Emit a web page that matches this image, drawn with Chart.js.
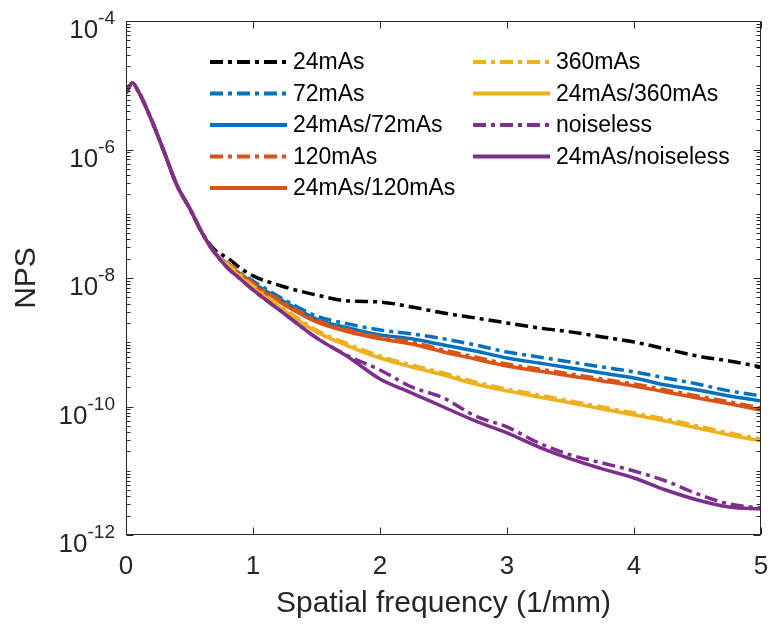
<html>
<head>
<script src="https://cdn.jsdelivr.net/npm/chart.js@4.4.0/dist/chart.umd.min.js"></script>
<style>
  body { margin: 0; background: #fff; }
  canvas { display: block; }
</style>
</head>
<body>
<canvas id="npsChart" width="771" height="624"></canvas>

<script>
  // spatial frequency samples (1/mm)
  var freq = [0, 0.05, 0.1, 0.2, 0.3, 0.4, 0.5, 0.6, 0.7, 0.8, 0.9, 1.0, 1.25, 1.5, 1.75,
              2.0, 2.25, 2.5, 2.75, 3.0, 3.25, 3.5, 3.75, 4.0, 4.25, 4.5, 4.75, 5.0];

  // low frequency part is the same for every curve (0 .. 0.6)
  var sharedLow = [7.58e-6, 1.08e-5, 7.85e-6, 2.9e-6, 9.15e-7, 2.8e-7, 1.23e-7, 5.0e-8];

  // from 0.7 onwards
  var nps24 = [2.73e-8, 2.05e-8, 1.43e-8, 1.08e-8, 7.24e-9, 5.44e-9, 4.39e-9, 4.23e-9, 3.54e-9, 2.85e-9,
               2.39e-9, 2.00e-9, 1.67e-9, 1.45e-9, 1.21e-9, 1.01e-9, 7.85e-10, 6.11e-10, 5.11e-10, 4.12e-10];
  var nps72 = [2.45e-8, 1.71e-8, 1.20e-8, 8.98e-9, 4.55e-9, 2.56e-9, 1.93e-9, 1.55e-9, 1.35e-9, 1.13e-9,
               9.06e-10, 7.05e-10, 5.90e-10, 4.93e-10, 4.12e-10, 3.45e-10, 2.78e-10, 2.24e-10, 1.75e-10, 1.46e-10];
  var nps24to72 = [2.45e-8, 1.65e-8, 1.16e-8, 8.36e-9, 4.23e-9, 2.30e-9, 1.67e-9, 1.30e-9, 1.13e-9, 9.06e-10,
                   7.31e-10, 5.69e-10, 4.76e-10, 3.98e-10, 3.32e-10, 2.78e-10, 2.16e-10, 1.81e-10, 1.46e-10, 1.22e-10];
  var nps120 = [2.45e-8, 1.71e-8, 1.20e-8, 8.36e-9, 4.08e-9, 2.22e-9, 1.55e-9, 1.21e-9, 1.01e-9, 7.58e-10,
                5.90e-10, 4.59e-10, 3.84e-10, 3.21e-10, 2.68e-10, 2.24e-10, 1.81e-10, 1.46e-10, 1.18e-10, 9.48e-11];
  var nps24to120 = [2.45e-8, 1.60e-8, 1.12e-8, 7.78e-9, 3.80e-9, 2.07e-9, 1.45e-9, 1.13e-9, 9.39e-10, 7.05e-10,
                    5.49e-10, 4.27e-10, 3.57e-10, 2.99e-10, 2.50e-10, 2.09e-10, 1.68e-10, 1.36e-10, 1.10e-10, 8.82e-11];
  var nps360 = [2.45e-8, 1.65e-8, 1.12e-8, 7.51e-9, 3.29e-9, 1.55e-9, 9.39e-10, 6.11e-10, 4.43e-10, 3.32e-10,
                2.41e-10, 1.87e-10, 1.51e-10, 1.22e-10, 9.82e-11, 7.92e-11, 6.39e-11, 4.97e-11, 3.87e-11, 3.12e-11];
  var nps24to360 = [2.45e-8, 1.54e-8, 1.04e-8, 6.99e-9, 3.07e-9, 1.45e-9, 8.74e-10, 5.69e-10, 4.12e-10, 3.09e-10,
                    2.24e-10, 1.75e-10, 1.41e-10, 1.14e-10, 9.15e-11, 7.38e-11, 5.95e-11, 4.63e-11, 3.60e-11, 2.91e-11];
  var npsNoiseless = [2.45e-8, 1.43e-8, 9.65e-9, 6.51e-9, 2.75e-9, 1.17e-9, 6.11e-10, 3.70e-10, 2.01e-10, 1.36e-10,
                      7.12e-11, 4.80e-11, 2.71e-11, 1.76e-11, 1.32e-11, 9.91e-12, 6.93e-12, 4.35e-12, 3.04e-12, 2.63e-12];
  var nps24toNoiseless = [2.45e-8, 1.43e-8, 9.65e-9, 6.51e-9, 2.75e-9, 1.17e-9, 5.90e-10, 2.68e-10, 1.62e-10, 9.82e-11,
                          5.95e-11, 3.87e-11, 2.34e-11, 1.53e-11, 1.07e-11, 7.71e-12, 5.02e-12, 3.51e-12, 2.73e-12, 2.54e-12];

  var seriesLabels = ["24mAs", "72mAs", "24mAs/72mAs", "120mAs", "24mAs/120mAs",
                      "360mAs", "24mAs/360mAs", "noiseless", "24mAs/noiseless"];
  var seriesValues = [nps24, nps72, nps24to72, nps120, nps24to120, nps360, nps24to360, npsNoiseless, nps24toNoiseless];
  var seriesColors = ["#000000", "#0072BD", "#0072BD", "#D95319", "#D95319", "#EDB120", "#EDB120", "#7E2F8E", "#7E2F8E"];
  var seriesDashed = [true, true, false, true, false, true, false, true, false];

  var xTicks = [0, 1, 2, 3, 4, 5];
  var yExponents = [-4, -6, -8, -10, -12];

  var fontFamily = "'Liberation Sans', Arial, sans-serif";
  var axisColor = "#262626";
  var dashDot = [13, 5, 4, 5];

  var datasets = seriesValues.map(function (vals, i) {
    var full = sharedLow.concat(vals);
    return {
      label: seriesLabels[i],
      data: full.map(function (v, k) { return { x: freq[k], y: v }; }),
      borderColor: seriesColors[i],
      borderWidth: 3.5,
      borderDash: seriesDashed[i] ? dashDot : [],
      pointRadius: 0,
      fill: false,
      cubicInterpolationMode: "monotone",
      // last series on top, like the plotting order
      order: seriesValues.length - i
    };
  });

  // box round the axes, inward tick marks and 10^n labels
  var axisFrame = {
    id: "axisFrame",
    afterDraw: function (chart) {
      var ctx = chart.ctx;
      var a = chart.chartArea;
      var x = chart.scales.x, y = chart.scales.y;
      var L = Math.round(a.left) + 0.5, R = Math.round(a.right) - 0.5;
      var T = Math.round(a.top) + 0.5, B = Math.round(a.bottom) - 0.5;
      ctx.save();
      ctx.strokeStyle = axisColor;
      ctx.lineWidth = 1;
      ctx.strokeRect(L, T, R - L, B - T);

      ctx.beginPath();
      for (var e = -12; e <= -4; e++) {
        for (var m = 1; m <= 9; m++) {
          if (e === -4 && m > 1) break;
          var py = Math.round(y.getPixelForValue(m * Math.pow(10, e))) + 0.5;
          var len = (m === 1 && e % 2 === 0) ? 7 : 4;
          ctx.moveTo(L, py); ctx.lineTo(L + len, py);
          ctx.moveTo(R, py); ctx.lineTo(R - len, py);
        }
      }
      xTicks.forEach(function (v) {
        var px = Math.round(x.getPixelForValue(v)) + 0.5;
        ctx.moveTo(px, B); ctx.lineTo(px, B - 7);
        ctx.moveTo(px, T); ctx.lineTo(px, T + 7);
      });
      ctx.stroke();

      ctx.fillStyle = axisColor;
      ctx.textAlign = "right";
      ctx.textBaseline = "alphabetic";
      yExponents.forEach(function (e) {
        var py = y.getPixelForValue(Math.pow(10, e));
        var expText = String(e);
        ctx.font = "19px " + fontFamily;
        var w = ctx.measureText(expText).width;
        ctx.fillText(expText, 115, py + 3);
        ctx.font = "26px " + fontFamily;
        ctx.fillText("10", 115 - w, py + 17);
      });
      ctx.restore();
    }
  };

  // two column legend without a box
  var npsLegend = {
    id: "npsLegend",
    afterDraw: function (chart) {
      var ctx = chart.ctx;
      var cols = [{ x0: 210, x1: 287 }, { x0: 473, x1: 550 }];
      ctx.save();
      ctx.font = "23px " + fontFamily;
      ctx.textBaseline = "middle";
      ctx.textAlign = "left";
      chart.data.datasets.forEach(function (ds, i) {
        var col = i < 5 ? cols[0] : cols[1];
        var row = i < 5 ? i : i - 5;
        var yy = 62 + row * 31.5;
        ctx.beginPath();
        ctx.strokeStyle = ds.borderColor;
        ctx.lineWidth = 4;
        ctx.setLineDash(ds.borderDash);
        ctx.moveTo(col.x0, yy);
        ctx.lineTo(col.x1, yy);
        ctx.stroke();
        ctx.setLineDash([]);
        ctx.fillStyle = "#000";
        ctx.fillText(ds.label, col.x1 + 6, yy + 1);
      });
      ctx.restore();
    }
  };

  var npsChart = new Chart(document.getElementById("npsChart"), {
    type: "line",
    data: { datasets: datasets },
    options: {
      responsive: false,
      animation: false,
      devicePixelRatio: 1,
      layout: { padding: { top: 21, right: 10, left: 0, bottom: 0 } },
      plugins: { legend: { display: false }, tooltip: { enabled: false } },
      scales: {
        x: {
          type: "linear",
          min: 0,
          max: 5,
          grid: { display: false, drawTicks: false },
          border: { display: false },
          ticks: { stepSize: 1, padding: 16, maxRotation: 0, color: axisColor,
                   font: { family: fontFamily, size: 26 } },
          title: { display: true, text: "Spatial frequency (1/mm)", color: axisColor,
                   font: { family: fontFamily, size: 30 }, padding: { top: 0, bottom: 2 } },
          afterFit: function (s) {
            s.height = 89;
            // let the end labels hang over the plot edges
            s.paddingLeft = 0;
            s.paddingRight = 0;
          }
        },
        y: {
          type: "logarithmic",
          min: 1e-12,
          max: 1e-4,
          grid: { display: false, drawTicks: false },
          border: { display: false },
          ticks: { display: false },
          title: { display: true, text: "NPS", color: axisColor,
                   font: { family: fontFamily, size: 30 }, padding: { top: 9, bottom: 0 } },
          afterFit: function (s) {
            s.width = 126;
            s.paddingTop = 0;
            s.paddingBottom = 0;
          }
        }
      }
    },
    plugins: [axisFrame, npsLegend]
  });
</script>
</body>
</html>
